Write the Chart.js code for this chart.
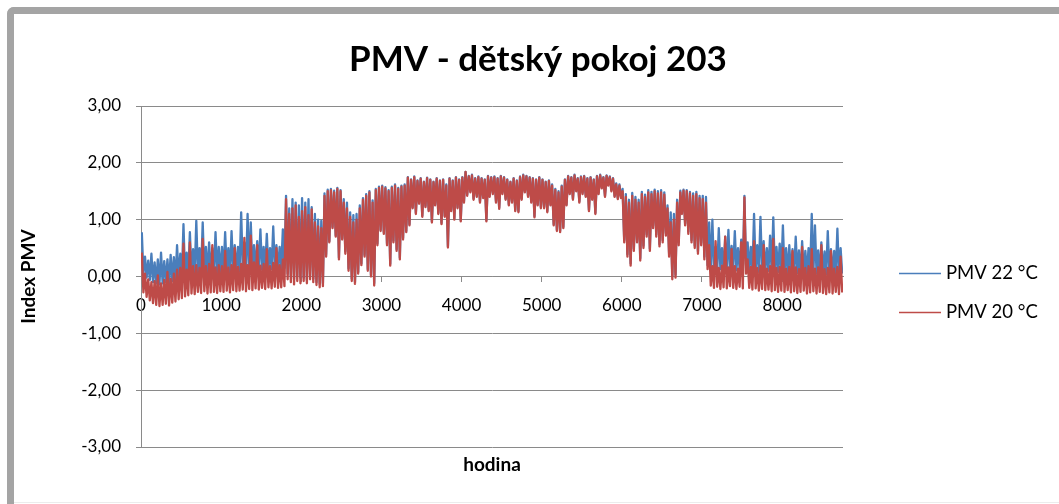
<!DOCTYPE html>
<html>
<head>
<meta charset="utf-8">
<script src="https://cdn.jsdelivr.net/npm/chart.js@4"></script>
<style>
  html, body { margin: 0; padding: 0; background: #fff; overflow: hidden; }
  #wrap { position: relative; width: 1059px; height: 504px; }
  #pmvChart { position: absolute; left: 0; top: 0; }
  /* grey frame of the chart object */
  #frame {
    position: absolute; left: 7px; top: 7px; width: 1100px; height: 600px;
    border-top: 7px solid #a4a4a4; border-left: 7px solid #a4a4a4;
    border-top-left-radius: 7px; pointer-events: none;
  }
  #frameBottom { position: absolute; left: 14px; right: 0; top: 502px; height: 1px; background: #ececec; }
</style>
</head>
<body>
<div id="wrap">
  <canvas id="pmvChart" width="1059" height="504"></canvas>
  <div id="frame"></div>
  <div id="frameBottom"></div>
</div>
<script>
// PMV index over the year, one max/min pair per 40 hour block (219 blocks)
const chartTitle = 'PMV - dětský pokoj 203';
const seriesNames = ['PMV 22 °C', 'PMV 20 °C'];
const xTitle = 'hodina';
const yTitle = 'Index PMV';
const blockHours = 40;
const hourMax = 8760;
const xTicks = [0, 1000, 2000, 3000, 4000, 5000, 6000, 7000, 8000];
const yMin = -3, yMax = 3, yStep = 1;

// PMV 22 °C - block maxima, one row per 1000 h
const hi22 = [
  0.78, 0.35, 0.28, 0.40, 0.25, 0.30, 0.42, 0.27, 0.30, 0.38, 0.34, 0.55, 0.40, 0.92, 0.42, 0.78, 0.48, 0.98, 0.50, 0.95, 0.52, 0.60, 0.50, 0.78, 0.52,
  0.52, 0.78, 0.50, 0.80, 0.55, 0.52, 1.13, 0.60, 1.10, 0.95, 0.55, 0.62, 0.83, 0.52, 0.75, 0.50, 0.88, 0.55, 0.52, 0.83, 1.42, 1.20, 1.36, 1.30, 1.25,
  1.38, 1.30, 1.36, 1.22, 1.10, 1.00, 0.98, 1.46, 1.53, 1.54, 1.51, 1.56, 1.52, 1.36, 1.30, 1.13, 1.08, 1.10, 1.25, 1.38, 1.45, 1.50, 1.34, 1.54, 1.58,
  1.60, 1.57, 1.52, 1.58, 1.62, 1.56, 1.60, 1.62, 1.75, 1.71, 1.76, 1.69, 1.73, 1.67, 1.74, 1.71, 1.67, 1.73, 1.69, 1.71, 1.62, 1.73, 1.69, 1.75, 1.71,
  1.75, 1.84, 1.77, 1.79, 1.73, 1.76, 1.73, 1.71, 1.77, 1.75, 1.76, 1.73, 1.77, 1.75, 1.71, 1.67, 1.73, 1.69, 1.76, 1.79, 1.77, 1.75, 1.73, 1.71, 1.75,
  1.71, 1.67, 1.69, 1.62, 1.54, 1.50, 1.60, 1.71, 1.77, 1.75, 1.79, 1.73, 1.76, 1.77, 1.73, 1.75, 1.71, 1.77, 1.79, 1.75, 1.78, 1.76, 1.73, 1.64, 1.62,
  1.54, 1.45, 1.35, 1.47, 1.40, 1.35, 1.49, 1.44, 1.52, 1.49, 1.53, 1.50, 1.52, 1.48, 1.25, 1.13, 1.10, 1.35, 1.51, 1.53, 1.52, 1.49, 1.46, 1.49, 1.42,
  1.42, 1.40, 0.95, 1.00, 0.52, 0.85, 0.50, 0.70, 0.82, 0.54, 0.80, 0.50, 0.65, 1.42, 0.60, 0.52, 1.10, 0.55, 1.05, 0.62, 0.50, 0.72, 1.04, 0.52, 0.58,
  0.90, 0.50, 0.55, 0.48, 0.70, 0.46, 0.62, 0.45, 0.50, 1.10, 0.90, 0.46, 0.60, 0.44, 0.80, 0.48, 0.45, 0.84, 0.50
];
// PMV 22 °C - block minima
const lo22 = [
  0.05, -0.02, -0.06, -0.10, -0.12, -0.14, -0.12, -0.10, -0.12, -0.08, -0.06, -0.04, -0.02, 0.00, 0.02, 0.04, 0.03, 0.06, 0.05, 0.07, 0.04, 0.06, 0.07, 0.05, 0.08,
  0.07, 0.09, 0.06, 0.10, 0.08, 0.09, 0.11, 0.08, 0.12, 0.10, 0.11, 0.13, 0.12, 0.14, 0.12, 0.13, 0.15, 0.13, 0.14, 0.15, 0.05, 0.00, -0.05, 0.02, -0.02,
  -0.02, -0.06, 0.02, -0.04, -0.10, -0.13, -0.12, 0.38, 0.62, 0.87, 0.72, 0.33, 0.67, 0.44, 0.14, -0.04, -0.09, 0.08, 0.23, 0.38, 0.13, 0.03, -0.12, 0.58, 0.82,
  0.78, 0.58, 0.22, 0.63, 0.48, 0.33, 0.68, 0.80, 0.92, 1.22, 1.12, 1.30, 1.07, 1.24, 1.17, 0.97, 1.27, 1.12, 0.94, 1.07, 0.53, 1.17, 1.02, 1.22, 0.99,
  1.32, 1.44, 1.50, 1.37, 1.42, 1.32, 1.40, 0.99, 1.42, 1.47, 1.32, 1.21, 1.47, 1.37, 1.27, 1.32, 1.17, 1.15, 1.37, 1.50, 1.42, 1.32, 1.06, 1.27, 1.22,
  1.22, 1.15, 1.27, 0.92, 0.82, 0.80, 0.87, 1.27, 1.47, 1.37, 1.52, 1.32, 1.47, 1.42, 1.17, 1.37, 1.12, 1.47, 1.57, 1.42, 1.62, 1.52, 1.42, 1.38, 1.40,
  0.64, 0.39, 0.23, 0.49, 0.64, 0.32, 0.54, 0.74, 0.49, 0.89, 0.74, 0.57, 0.64, 0.76, 0.40, 0.00, 0.03, 0.60, 1.13, 0.93, 0.79, 0.64, 0.54, 0.44, 0.59,
  0.35, 0.20, 0.10, 0.12, 0.10, 0.13, 0.11, 0.12, 0.10, 0.13, 0.11, 0.12, 0.10, 0.20, 0.10, 0.09, 0.12, 0.08, 0.10, 0.09, 0.10, 0.07, 0.09, 0.08, 0.07,
  0.08, 0.06, 0.07, 0.05, 0.06, 0.04, 0.07, 0.05, 0.06, 0.04, 0.05, 0.03, 0.06, 0.04, 0.05, 0.03, 0.05, 0.02, 0.05
];
// PMV 20 °C - block maxima
const hi20 = [
  0.42, 0.05, -0.05, -0.10, -0.08, 0.02, -0.12, -0.06, 0.08, -0.04, 0.05, 0.12, 0.15, 0.58, 0.12, 0.60, 0.18, 0.20, 0.15, 0.66, 0.18, 0.22, 0.55, 0.16, 0.20,
  0.18, 0.45, 0.16, 0.20, 0.50, 0.17, 0.22, 0.68, 0.20, 0.72, 0.25, 0.55, 0.19, 0.22, 0.48, 0.18, 0.24, 0.50, 0.20, 0.30, 1.36, 1.10, 1.20, 1.25, 1.05,
  1.15, 1.22, 1.08, 1.18, 0.95, 0.88, 0.85, 1.42, 1.50, 1.52, 1.48, 1.54, 1.50, 1.30, 1.20, 1.05, 0.95, 1.00, 1.20, 1.35, 1.42, 1.48, 1.30, 1.52, 1.56,
  1.58, 1.55, 1.50, 1.56, 1.60, 1.54, 1.58, 1.60, 1.74, 1.70, 1.75, 1.68, 1.72, 1.66, 1.73, 1.70, 1.66, 1.72, 1.68, 1.70, 1.60, 1.72, 1.68, 1.74, 1.70,
  1.74, 1.84, 1.76, 1.78, 1.72, 1.75, 1.72, 1.70, 1.76, 1.74, 1.75, 1.72, 1.76, 1.74, 1.70, 1.66, 1.72, 1.68, 1.75, 1.78, 1.76, 1.74, 1.72, 1.70, 1.74,
  1.70, 1.66, 1.68, 1.60, 1.52, 1.48, 1.58, 1.70, 1.76, 1.74, 1.78, 1.72, 1.75, 1.76, 1.72, 1.74, 1.70, 1.76, 1.78, 1.74, 1.77, 1.75, 1.72, 1.62, 1.60,
  1.50, 1.40, 1.30, 1.42, 1.35, 1.30, 1.45, 1.40, 1.48, 1.45, 1.50, 1.46, 1.48, 1.44, 1.20, 0.95, 1.00, 1.30, 1.48, 1.51, 1.50, 1.46, 1.42, 1.45, 1.38,
  1.36, 1.30, 0.55, 0.18, 0.62, 0.15, 0.19, 0.70, 0.16, 0.48, 0.18, 0.14, 0.60, 1.39, 0.30, 0.17, 0.62, 0.15, 0.19, 0.55, 0.14, 0.18, 0.66, 0.15, 0.17,
  0.50, 0.14, 0.17, 0.45, 0.16, 0.13, 0.52, 0.15, 0.18, 0.48, 0.14, 0.16, 0.55, 0.13, 0.15, 0.45, 0.14, 0.17, 0.35
];
// PMV 20 °C - block minima
const lo20 = [
  -0.28, -0.36, -0.42, -0.47, -0.50, -0.52, -0.50, -0.48, -0.51, -0.46, -0.44, -0.40, -0.38, -0.35, -0.33, -0.30, -0.31, -0.27, -0.29, -0.26, -0.30, -0.28, -0.27, -0.29, -0.26,
  -0.27, -0.25, -0.28, -0.24, -0.26, -0.25, -0.23, -0.26, -0.22, -0.24, -0.21, -0.23, -0.20, -0.22, -0.19, -0.21, -0.18, -0.20, -0.19, -0.17, -0.05, -0.10, -0.14, -0.08, -0.12,
  -0.08, -0.12, -0.05, -0.10, -0.15, -0.19, -0.17, 0.35, 0.60, 0.85, 0.70, 0.30, 0.65, 0.40, 0.10, -0.08, -0.13, 0.05, 0.20, 0.35, 0.10, 0.00, -0.16, 0.55, 0.80,
  0.75, 0.55, 0.19, 0.60, 0.45, 0.30, 0.65, 0.78, 0.90, 1.20, 1.10, 1.28, 1.05, 1.22, 1.15, 0.95, 1.25, 1.10, 0.92, 1.05, 0.51, 1.15, 1.00, 1.20, 0.97,
  1.30, 1.42, 1.48, 1.35, 1.40, 1.30, 1.38, 0.97, 1.40, 1.45, 1.30, 1.19, 1.45, 1.35, 1.25, 1.30, 1.15, 1.13, 1.35, 1.48, 1.40, 1.30, 1.04, 1.25, 1.20,
  1.20, 1.13, 1.25, 0.90, 0.80, 0.78, 0.85, 1.25, 1.45, 1.35, 1.50, 1.30, 1.45, 1.40, 1.15, 1.35, 1.10, 1.45, 1.55, 1.40, 1.60, 1.50, 1.40, 1.36, 1.38,
  0.60, 0.35, 0.19, 0.45, 0.60, 0.28, 0.50, 0.70, 0.45, 0.85, 0.70, 0.53, 0.60, 0.72, 0.35, -0.05, -0.02, 0.55, 1.10, 0.90, 0.75, 0.60, 0.50, 0.40, 0.55,
  0.30, 0.13, -0.16, -0.20, -0.18, -0.22, -0.19, -0.21, -0.17, -0.20, -0.22, -0.18, -0.21, 0.05, -0.20, -0.23, -0.21, -0.25, -0.22, -0.24, -0.23, -0.26, -0.24, -0.27, -0.25,
  -0.27, -0.24, -0.28, -0.26, -0.29, -0.27, -0.25, -0.30, -0.28, -0.26, -0.30, -0.27, -0.29, -0.31, -0.28, -0.30, -0.27, -0.31, -0.28
];

const blue = '#4A7EBB';
const red = '#BE4B48';
const gridColor = '#8a8a8a';
const textColor = '#000';
const fontFamily = 'Lato, "Open Sans", sans-serif';

// max and min of every block, placed inside the block
function blockLine(hi, lo) {
  const pts = [];
  hi.forEach((v, i) => {
    pts.push({ x: i * blockHours + 10, y: v });
    pts.push({ x: i * blockHours + 30, y: lo[i] });
  });
  return pts;
}

const fmtComma = v => v.toFixed(2).replace('.', ',');

// title and legend on the right side
const decorPlugin = {
  id: 'decor',
  afterDraw(chart) {
    const ctx = chart.ctx;
    ctx.save();
    ctx.fillStyle = textColor;
    ctx.textBaseline = 'middle';
    ctx.textAlign = 'center';
    ctx.font = 'bold 35px ' + fontFamily;
    ctx.fillText(chartTitle, 538, 60);

    const items = [[seriesNames[0], blue, 273], [seriesNames[1], red, 312]];
    ctx.textAlign = 'left';
    ctx.font = '18.5px ' + fontFamily;
    items.forEach(([name, col, y]) => {
      ctx.strokeStyle = col;
      ctx.lineWidth = 1.5;
      ctx.beginPath();
      ctx.moveTo(899, y + 0.5);
      ctx.lineTo(941, y + 0.5);
      ctx.stroke();
      ctx.fillStyle = textColor;
      ctx.fillText(name, 946, y);
    });
    ctx.restore();
  }
};

const ctx = document.getElementById('pmvChart').getContext('2d');
new Chart(ctx, {
  type: 'line',
  data: {
    datasets: [
      { label: seriesNames[0], data: blockLine(hi22, lo22), borderColor: blue, backgroundColor: blue, order: 2 },
      { label: seriesNames[1], data: blockLine(hi20, lo20), borderColor: red, backgroundColor: red, order: 1 }
    ]
  },
  options: {
    responsive: false,
    animation: false,
    layout: { padding: { top: 106, right: 216, bottom: 57, left: 0 } },
    elements: {
      point: { radius: 0 },
      line: { borderWidth: 2.3, tension: 0, borderJoinStyle: 'round' }
    },
    plugins: {
      legend: { display: false },
      title: { display: false },
      tooltip: { enabled: false }
    },
    scales: {
      x: {
        type: 'linear',
        min: 0,
        max: hourMax,
        position: { y: 0 },
        afterBuildTicks: s => { s.ticks = xTicks.map(v => ({ value: v })); },
        afterFit: s => { s.height = 200; },
        grid: { drawOnChartArea: false, color: gridColor, tickLength: 5 },
        border: { color: gridColor },
        ticks: {
          maxRotation: 0, autoSkip: false, padding: 14, color: textColor,
          font: { family: fontFamily, size: 17 },
          callback: v => String(v)
        },
        title: {
          display: true, text: xTitle, color: textColor, padding: 0,
          font: { family: fontFamily, size: 19, weight: 'bold' }
        }
      },
      y: {
        min: yMin,
        max: yMax,
        afterFit: s => { s.width = 141; },
        grid: { color: gridColor, tickLength: 5 },
        border: { color: gridColor },
        ticks: {
          stepSize: yStep, padding: 15, color: textColor,
          font: { family: fontFamily, size: 17 },
          callback: v => fmtComma(v)
        },
        title: {
          display: true, text: yTitle, color: textColor,
          padding: { top: 17, bottom: 0 },
          font: { family: fontFamily, size: 19, weight: 'bold' }
        }
      }
    }
  },
  plugins: [decorPlugin]
});
</script>
</body>
</html>
